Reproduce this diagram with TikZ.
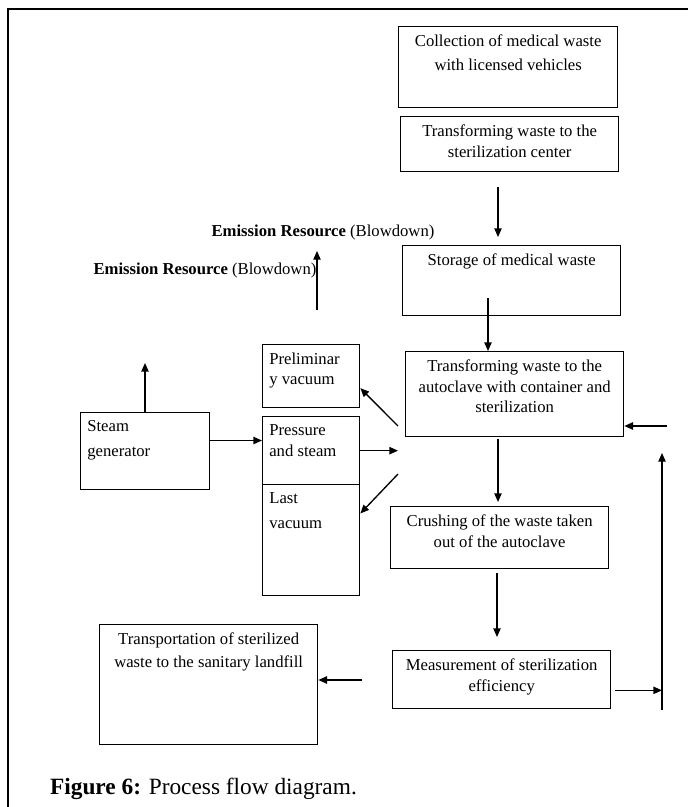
\documentclass[tikz,border=0pt]{standalone}
\usepackage{fontspec}
\setmainfont{Liberation Serif}
\usetikzlibrary{arrows.meta}
\newcommand{\bx}[4]{\parbox[c][\dimexpr #2pt*3/4-12pt\relax][t]{\dimexpr #1pt*3/4-10pt\relax}{#3 #4}}
\begin{document}
\begin{tikzpicture}[x=0.75pt,y=-0.75pt,line width=1pt,font=\fontsize{12.5}{15.5}\selectfont]
	\useasboundingbox (0,0)rectangle(688,807);
	\clip (0,0)rectangle(688,807);
	\tikzset{blk/.style={draw,anchor=north west,inner xsep=5pt,inner ysep=6pt}}
	\tikzset{arr/.style={-{Triangle[length=6.5pt,width=5.5pt]}}}
	\draw[line width=2.2pt](8,830)--(8,9)--(700,9);
	\node[blk] (coll) at (398,26) {\bx{219}{81}{\centering}{Collection of medical waste\\[2.5pt] with licensed vehicles}};
	\node[blk] (center) at (400,116) {\bx{218}{55}{\centering}{Transforming waste to the\\ sterilization center}};
	\node[blk] (stor) at (402,245) {\bx{218}{70}{\centering}{Storage of medical waste}};
	\node[blk] (auto) at (405,351) {\bx{218}{85}{\centering}{Transforming waste to the\\ autoclave with container and\\ sterilization}};
	\node[blk] (crush) at (390,506) {\bx{218}{62}{\centering}{Crushing of the waste taken\\ out of the autoclave}};
	\node[blk] (meas) at (392,650) {\bx{218}{58}{\centering}{Measurement of sterilization\\ efficiency}};
	\node[blk] (trans) at (99,624) {\bx{218}{120}{\centering}{Transportation of sterilized\\[1.5pt] waste to the sanitary landfill}};
	\node[blk] (prel) at (262,344) {\bx{97}{63}{\raggedright}{Preliminar\\ y vacuum}};
	\node[blk] (pres) at (262,416) {\bx{97}{68}{\raggedright}{Pressure\\ and steam}};
	\node[blk] (last) at (262,484) {\bx{97}{111}{\raggedright}{Last\\[3pt] vacuum}};
	\node[blk] (steam) at (80,412) {\bx{129}{77}{\raggedright}{Steam\\[3pt] generator}};
	\node (em1) at (323,232) {\textbf{Emission Resource} (Blowdown)};
	\node (em2) at (205,270) {\textbf{Emission Resource} (Blowdown)};
	\node[anchor=west,font=\fontsize{17.5}{20}\selectfont] (cap) at (45,789) {\textbf{Figure 6:} Process flow diagram.};
	\coordinate (c1) at (498,187); \coordinate (c2) at (498,237);
	\coordinate (e1) at (317,310); \coordinate (e2) at (317,251);
	\coordinate (a1) at (498,439); \coordinate (a2) at (498,502);
	\coordinate (m1) at (497,573); \coordinate (m2) at (497,637);
	\coordinate (r1) at (662,710); \coordinate (r2) at (662,453); \coordinate (r3) at (667,426);
	\foreach \a/\b in {c1/c2,e1/e2,a1/a2,m1/m2,r1/r2}
	\draw[arr](\a)--(\b);
	\coordinate (s1) at (488,298);
	\draw[arr](s1)--(s1|-auto.north);
	\coordinate (g1) at (145,363);
	\draw[arr](g1|-steam.north)--(g1);
	\draw[arr]([yshift=8pt]steam.east)--([yshift=8pt]steam.east-|pres.west);
	\coordinate (h1) at (398,426); \coordinate (h2) at (398,451); \coordinate (h3) at (398,474);
	\draw[arr](h1)--([yshift=-9pt]prel.east);
	\draw[arr](pres.east)--(pres.east-|h2);
	\draw[arr](h3)--([yshift=20pt]last.east);
	\draw[arr](r3)--(r3-|auto.east);
	\draw[arr]([xshift=3pt,yshift=-8pt]meas.east)--([yshift=-8pt]meas.east-|r1);
	\coordinate (t1) at (362,680);
	\draw[arr](t1)--(t1-|trans.east);
\end{tikzpicture}
\end{document}
